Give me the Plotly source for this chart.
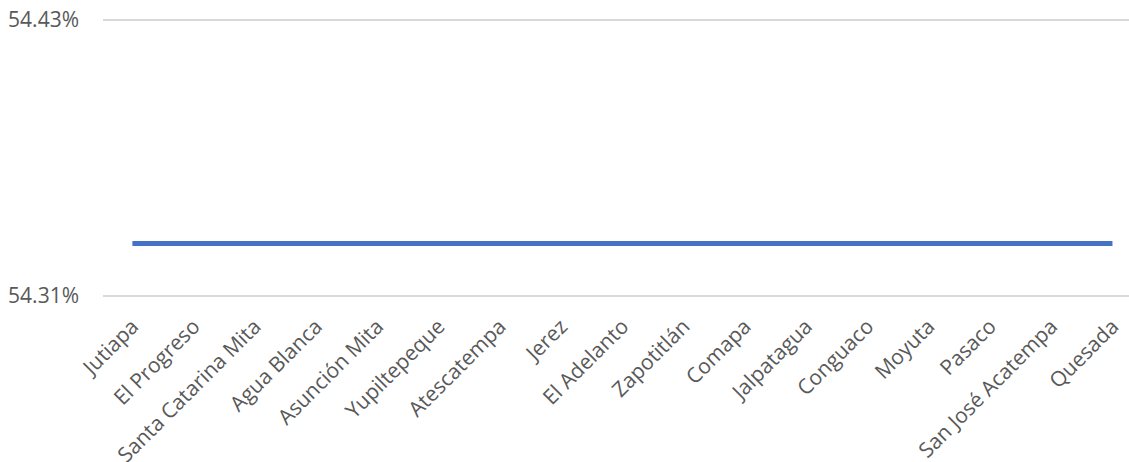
import plotly.graph_objects as go

# Municipios de Jutiapa
municipios = [
    'Jutiapa', 'El Progreso', 'Santa Catarina Mita', 'Agua Blanca',
    'Asunción Mita', 'Yupiltepeque', 'Atescatempa', 'Jerez',
    'El Adelanto', 'Zapotitlán', 'Comapa', 'Jalpatagua',
    'Conguaco', 'Moyuta', 'Pasaco', 'San José Acatempa', 'Quesada'
]
valores = [54.3328] * 17
y_ticks = [54.31, 54.43]
y_tick_text = ['54.31%', '54.43%']

# small pad so the edge gridlines are not clipped
pad = 2 / 2300

fig = go.Figure()
fig.add_trace(go.Scatter(
    x=list(range(len(municipios))),
    y=valores,
    mode='lines',
    line=dict(color='#4472C4', width=5),
    hoverinfo='skip',
    showlegend=False))

fig.update_layout(
    width=1129, height=462,
    margin=dict(l=103, r=0, t=18, b=164, autoexpand=False),
    paper_bgcolor='white', plot_bgcolor='white',
    font=dict(family='Open Sans, sans-serif', color='#595959', size=21))

fig.update_xaxes(
    range=[-0.48, 16.27],
    tickmode='array',
    tickvals=list(range(len(municipios))),
    ticktext=municipios,
    tickangle=-45,
    automargin=False,
    showgrid=False, zeroline=False, showline=False,
    ticks='', ticklabelstandoff=11)
fig.update_yaxes(
    range=[y_ticks[0] - pad, y_ticks[1] + pad],
    tickvals=y_ticks,
    ticktext=y_tick_text,
    automargin=False,
    showgrid=True, gridcolor='#D9D9D9', gridwidth=1.5,
    zeroline=False, showline=False,
    ticks='', ticklabelstandoff=23)

# drop the default body margin so the figure sits at the page corner
fig.write_html("out.html",
               config={'displayModeBar': False},
               post_script="document.body.style.margin='0';")
